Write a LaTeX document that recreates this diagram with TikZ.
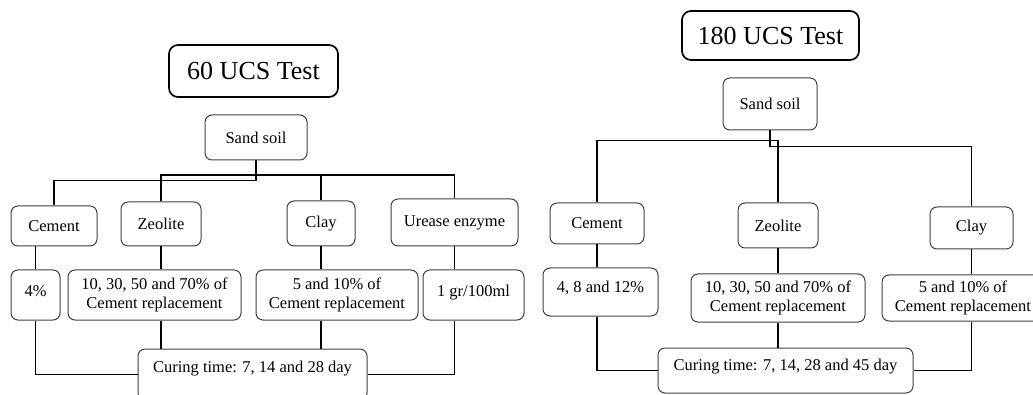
\documentclass[tikz,border=0pt]{standalone}
\usepackage{fontspec}
\setmainfont{Liberation Serif}

\newcommand{\boxfont}{\fontsize{16.5}{19}\selectfont}
\newcommand{\headfont}{\fontsize{26}{30}\selectfont}

\tikzset{
  box/.style={draw=black!75, line width=1pt, rounded corners=7pt, align=center, inner sep=0pt, font=\boxfont},
  head/.style={draw, line width=1.7pt, rounded corners=9pt, inner sep=0pt, font=\headfont},
  sz/.style 2 args={minimum width=#1pt, minimum height=#2pt},
  link/.style={line width=1.9pt},
}

\begin{document}
\begin{tikzpicture}[x=1pt, y=-1pt]
  \useasboundingbox (0,0) rectangle (1033,395);

  % 60 days
  \node [head, sz={169}{52}] (ltitle) at (253.5,71) {60 UCS Test};
  \node [box, sz={102}{45}] (lsand) at (256,137.5) {Sand soil};

  \node [box, sz={86}{40}] (lcement) at (54,226) {Cement};
  \node [box, sz={80}{44}] (lzeolite) at (161,224) {Zeolite};
  \node [box, sz={68}{45}] (lclay) at (321,223.5) {Clay};
  \node [box, sz={127}{47}] (lurease) at (454.5,222.5) {Urease enzyme};

  \node [box, minimum width=49pt, text height=26pt, text depth=24pt] (lcemdose) at (35.5,295) {4\%};
  \node [box, sz={173}{50}] (lzrep) at (154.5,295) {10, 30, 50 and 70\% of\\Cement replacement};
  \node [box, sz={162}{50}] (lcrep) at (337,295) {5 and 10\% of\\Cement replacement};
  \node [box, minimum width=101pt, text height=26pt, text depth=24pt] (ldose) at (473.5,295) {1 gr/100ml};

  \node [box, minimum width=229pt, text height=23pt, text depth=28pt] (lcure) at (252.5,374.5) {Curing time: 7, 14 and 28 day};

  \coordinate (lbus) at (256,175);
  \draw [link] (lsand.south) -- ++(0,20) -| (lcement.north);
  \draw [link] (lzeolite.north) |- (lbus) -| (lurease.north);
  \draw [link] (lclay.north) -- (lclay.north |- lbus);

  \draw [link] (lcemdose.north) -- (lcemdose.north |- lcement.south);
  \draw [link] (lzeolite.south) -- (lzeolite.south |- lzrep.north);
  \draw [link] (lclay.south) -- (lclay.south |- lcrep.north);
  \draw [link] (lurease.south) -- (lurease.south |- ldose.north);

  \draw [link] (lcemdose.south) |- (lcure.west);
  \draw [link] (lzrep.south -| lzeolite) -- (lcure.north -| lzeolite);
  \draw [link] (lcrep.south -| lclay) -- (lcure.north -| lclay);
  \draw [link] (ldose.south -| lurease) |- (lcure.east);

  % 180 days
  \node [head, sz={177}{49}] (rtitle) at (770.5,35.5) {180 UCS Test};
  \node [box, sz={94}{52}] (rsand) at (770,104) {Sand soil};

  \node [box, sz={94}{41}] (rcement) at (597,223.5) {Cement};
  \node [box, sz={80}{45}] (rzeolite) at (778,225.5) {Zeolite};
  \node [box, sz={83}{42}] (rclay) at (971.5,228) {Clay};

  \node [box, minimum width=115pt, text height=24pt, text depth=24pt] (rcemdose) at (600.5,292) {4, 8 and 12\%};
  \node [box, sz={174}{48}] (rzrep) at (778,298) {10, 30, 50 and 70\% of\\Cement replacement};
  \node [box, sz={162}{46}] (rcrep) at (963,298) {5 and 10\% of\\Cement replacement};

  \node [box, minimum width=255pt, text height=22pt, text depth=23pt] (rcure) at (785.5,370.5) {Curing time: 7, 14, 28 and 45 day};

  \draw [link] (rsand.south) -- ++(0,16) -| (rclay.north);
  \draw [link] (rzeolite.north) -- ++(0,-62) -| (rcement.north);

  \draw [link] (rcement.south) -- (rcement.south |- rcemdose.north);
  \draw [link] (rzeolite.south) -- (rzrep.north);
  \draw [link] (rclay.south) -- (rclay.south |- rcrep.north);

  \draw [link] (rcemdose.south -| rcement) |- (rcure.west);
  \draw [link] (rzrep.south) -- (rcure.north -| rzrep);
  \draw [link] (rcrep.south -| rclay) |- (rcure.east);
\end{tikzpicture}
\end{document}
